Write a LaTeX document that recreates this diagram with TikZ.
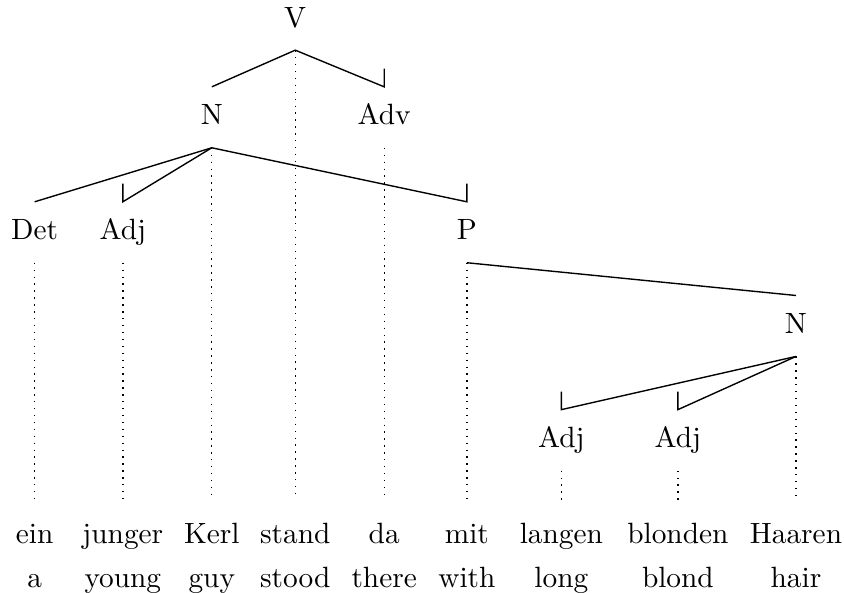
\documentclass[tikz,border=0pt]{standalone}
\usepackage{tikz}
\tikzset{
  cat/.style={inner sep=0pt,text height=1.5ex,text depth=.25ex,minimum height=0.76cm},
  word/.style={inner sep=0pt,text height=1.5ex,text depth=.25ex,minimum height=0.91cm},
  dep/.style={line width=0.5pt},
  proj/.style={dotted,line width=0.5pt}
}

\begin{document}
\begin{tikzpicture}[font=\fontsize{10.6}{13}\selectfont]
\useasboundingbox (0,0) rectangle (10.72,-7.53);
% words and glosses
\foreach \nm/\xx/\wrd/\gl in {w1/0.44/ein/a,w2/1.56/junger/young,w3/2.69/Kerl/guy,
  w4/3.75/stand/stood,w5/4.88/da/there,w6/5.93/mit/with,w7/7.13/langen/long,
  w8/8.61/blonden/blond,w9/10.11/Haaren/hair}{
  \node[word] (\nm) at (\xx,-6.81) {\wrd};
  \node[word] (g\nm) at (\xx,-7.37) {\gl};
}
% categories
\node[cat] (v) at (3.75,-0.25) {V};
\node[cat] (n1) at (2.69,-1.49) {N};
\node[cat] (adv) at (4.88,-1.49) {Adv};
\node[cat] (det) at (0.44,-2.95) {Det};
\node[cat] (adj1) at (1.56,-2.95) {Adj};
\node[cat] (p) at (5.93,-2.95) {P};
\node[cat] (n2) at (10.11,-4.14) {N};
\node[cat] (adj2) at (7.13,-5.59) {Adj};
\node[cat] (adj3) at (8.61,-5.59) {Adj};
% dependencies
\draw[dep] (n1.north) -- (v.south) -- (adv.north) -- ++(0,0.23);
\draw[dep] (det.north) -- (n1.south) -- (p.north) -- ++(0,0.23);
\draw[dep] (n1.south) -- (adj1.north) -- ++(0,0.23);
\draw[dep] (p.south) -- (n2.north);
\draw[dep] (n2.south) -- (adj2.north) -- ++(0,0.23);
\draw[dep] (n2.south) -- (adj3.north) -- ++(0,0.23);
% projection lines
\foreach \cc/\ww in {v/w4,n1/w3,adv/w5,det/w1,adj1/w2,p/w6,n2/w9,adj2/w7,adj3/w8}{
  \draw[proj] (\cc.south) -- (\ww.north);
}
\end{tikzpicture}
\end{document}
